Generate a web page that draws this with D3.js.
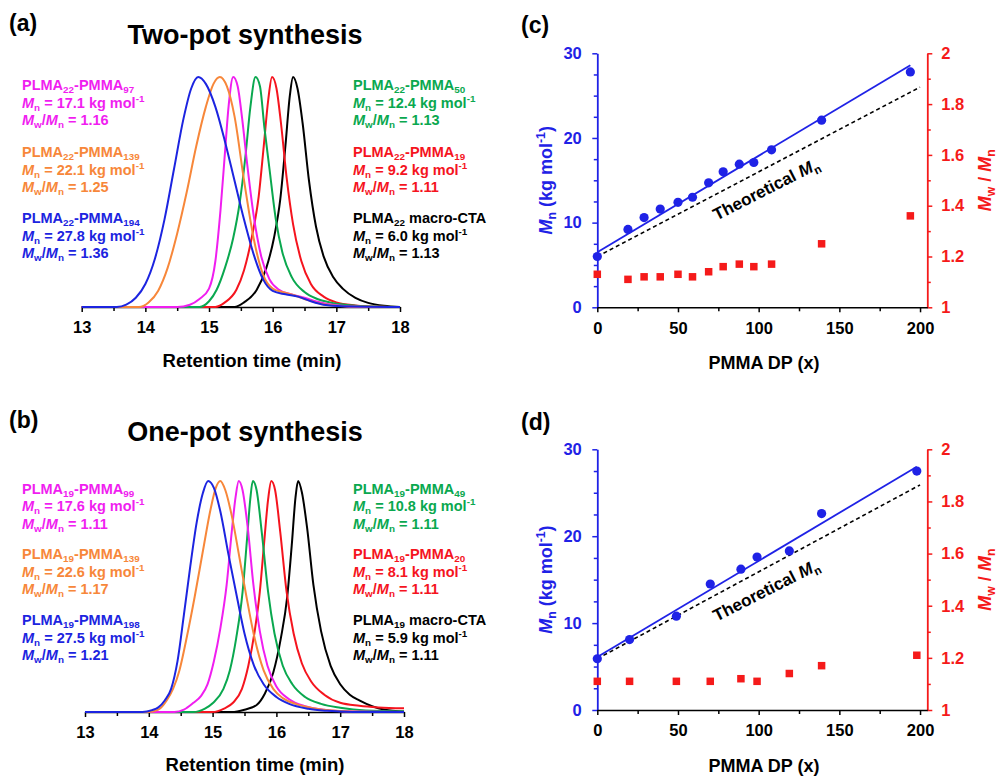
<!DOCTYPE html>
<html>
<head>
<meta charset="utf-8">
<script src="https://cdn.jsdelivr.net/npm/d3@7"></script>
<style>
  body { margin: 0; background: #fff; }
  svg { display: block; font-family: "Liberation Sans", Arial, Helvetica, sans-serif; }
</style>
</head>
<body>
<svg id="fig" width="999" height="777"></svg>
<script>
// ---------------- Data ----------------
// GPC traces, [retention time (min), normalised RI signal]
// Two-pot synthesis (PLMA22 macro-CTA and its chain extensions)
const twoPotTraceCTA = [[13,0],[15.4,0],[15.55,0.02],[15.75,0.075],[15.9,0.17],[16.02,0.3],[16.12,0.47],[16.2,0.7],[16.27,0.92],[16.32,1.0],[16.39,0.95],[16.47,0.8],[16.57,0.55],[16.68,0.35],[16.8,0.22],[16.95,0.13],[17.1,0.08],[17.3,0.04],[17.5,0.018],[17.75,0.005],[18,0]];
const twoPotTrace19 = [[13,0],[15.1,0],[15.25,0.02],[15.43,0.075],[15.55,0.16],[15.67,0.3],[15.78,0.48],[15.86,0.7],[15.93,0.9],[15.99,1.0],[16.06,0.95],[16.13,0.8],[16.22,0.56],[16.32,0.36],[16.45,0.2],[16.6,0.1],[16.8,0.045],[17.0,0.02],[17.3,0.007],[17.7,0.001],[18,0]];
const twoPotTrace50 = [[13,0],[14.85,0],[15.0,0.025],[15.12,0.075],[15.25,0.17],[15.38,0.3],[15.48,0.45],[15.57,0.65],[15.65,0.87],[15.73,1.0],[15.8,0.96],[15.87,0.78],[15.95,0.6],[16.05,0.38],[16.15,0.24],[16.3,0.13],[16.5,0.065],[16.7,0.035],[16.9,0.02],[17.2,0.008],[17.6,0.002],[18,0]];
const twoPotTrace97 = [[13,0],[14.5,0],[14.7,0.01],[14.85,0.035],[15.0,0.08],[15.1,0.2],[15.18,0.42],[15.25,0.67],[15.31,0.88],[15.38,1.0],[15.45,0.96],[15.52,0.82],[15.6,0.62],[15.7,0.4],[15.82,0.22],[15.95,0.12],[16.1,0.075],[16.3,0.055],[16.5,0.04],[16.75,0.02],[17.0,0.008],[17.4,0],[18,0]];
const twoPotTrace139 = [[13,0],[13.9,0],[14.05,0.02],[14.2,0.07],[14.35,0.17],[14.5,0.32],[14.65,0.5],[14.8,0.7],[14.95,0.87],[15.07,0.97],[15.17,1.0],[15.28,0.96],[15.4,0.83],[15.55,0.55],[15.7,0.3],[15.85,0.14],[16.0,0.08],[16.15,0.065],[16.35,0.05],[16.55,0.03],[16.8,0.012],[17.2,0.002],[18,0]];
const twoPotTrace194 = [[13,0],[13.55,0],[13.7,0.01],[13.85,0.04],[14.0,0.1],[14.15,0.21],[14.3,0.38],[14.45,0.6],[14.6,0.82],[14.72,0.95],[14.83,1.0],[14.95,0.97],[15.1,0.87],[15.25,0.72],[15.4,0.55],[15.55,0.38],[15.7,0.23],[15.85,0.12],[16.0,0.07],[16.2,0.055],[16.4,0.045],[16.6,0.025],[16.8,0.01],[17.1,0.003],[18,0]];

// One-pot synthesis (PLMA19 macro-CTA and its chain extensions)
const onePotTraceCTA = [[13,0],[15.3,0],[15.5,0.01],[15.69,0.03],[15.82,0.08],[15.95,0.17],[16.07,0.32],[16.17,0.5],[16.24,0.72],[16.3,0.93],[16.34,1.0],[16.4,0.95],[16.48,0.8],[16.58,0.55],[16.7,0.35],[16.85,0.2],[17.0,0.12],[17.15,0.075],[17.3,0.05],[17.5,0.025],[17.7,0.01],[18,0.002]];
const onePotTrace20 = [[13,0],[15.0,0],[15.18,0.015],[15.32,0.04],[15.46,0.1],[15.56,0.2],[15.66,0.35],[15.74,0.52],[15.81,0.74],[15.87,0.92],[15.92,1.0],[15.98,0.96],[16.06,0.78],[16.16,0.52],[16.27,0.34],[16.4,0.21],[16.55,0.13],[16.75,0.075],[17.0,0.04],[17.3,0.027],[17.6,0.02],[18,0.016]];
const onePotTrace49 = [[13,0],[14.7,0],[14.88,0.015],[15.01,0.04],[15.17,0.1],[15.27,0.18],[15.37,0.32],[15.47,0.52],[15.54,0.75],[15.59,0.92],[15.63,1.0],[15.69,0.96],[15.77,0.78],[15.87,0.52],[15.97,0.34],[16.1,0.2],[16.25,0.12],[16.45,0.065],[16.7,0.035],[17.0,0.018],[17.4,0.006],[18,0.002]];
const onePotTrace99 = [[13,0],[14.4,0],[14.55,0.01],[14.7,0.04],[14.82,0.07],[14.92,0.12],[15.02,0.22],[15.12,0.36],[15.22,0.55],[15.3,0.78],[15.36,0.93],[15.41,1.0],[15.47,0.96],[15.55,0.8],[15.64,0.55],[15.74,0.35],[15.86,0.2],[16.0,0.11],[16.2,0.055],[16.45,0.025],[16.75,0.01],[17.2,0.002],[18,0]];
const onePotTrace139 = [[13,0],[14.0,0],[14.15,0.01],[14.28,0.05],[14.38,0.1],[14.48,0.18],[14.6,0.33],[14.72,0.5],[14.85,0.7],[14.97,0.88],[15.05,0.97],[15.12,1.0],[15.2,0.96],[15.3,0.85],[15.42,0.67],[15.53,0.5],[15.65,0.33],[15.8,0.18],[15.95,0.1],[16.1,0.06],[16.3,0.035],[16.6,0.015],[17.0,0.004],[17.5,0],[18,0]];
const onePotTrace198 = [[13,0],[13.9,0],[14.05,0.008],[14.15,0.02],[14.25,0.05],[14.35,0.1],[14.45,0.22],[14.55,0.42],[14.65,0.63],[14.75,0.82],[14.85,0.95],[14.93,1.0],[15.02,0.97],[15.12,0.87],[15.25,0.68],[15.38,0.5],[15.5,0.34],[15.65,0.2],[15.8,0.12],[16.0,0.065],[16.2,0.035],[16.5,0.014],[16.8,0.005],[17.2,0],[18,0]];

// Sample annotations, ordered CTA, then increasing PMMA DP
const twoPotBlockDP = 22;
const twoPotDP   = [0, 19, 50, 97, 139, 194];
const twoPotMn   = [6.0, 9.2, 12.4, 17.1, 22.1, 27.8];
const twoPotDisp = [1.13, 1.11, 1.13, 1.16, 1.25, 1.36];

const onePotBlockDP = 19;
const onePotDP   = [0, 20, 49, 99, 139, 198];
const onePotMn   = [5.9, 8.1, 10.8, 17.6, 22.6, 27.5];
const onePotDisp = [1.11, 1.11, 1.11, 1.11, 1.17, 1.21];

// Mn and dispersity vs PMMA DP
const dpC   = [0, 19, 29, 39, 50, 59, 69, 78, 88, 97, 108, 139, 194];
const mnC   = [6.0, 9.2, 10.6, 11.6, 12.4, 13.0, 14.7, 16.0, 16.9, 17.1, 18.6, 22.1, 27.8];
const dispC = [1.13, 1.11, 1.12, 1.12, 1.13, 1.12, 1.14, 1.16, 1.17, 1.16, 1.17, 1.25, 1.36];
const fitC  = [[0, 6.5], [194, 28.6]];
const theoC = [[0, 6.0], [200, 26.0]];

const dpD   = [0, 20, 49, 70, 89, 99, 119, 139, 198];
const mnD   = [5.9, 8.1, 10.8, 14.5, 16.2, 17.6, 18.3, 22.6, 27.5];
const dispD = [1.11, 1.11, 1.11, 1.11, 1.12, 1.11, 1.14, 1.17, 1.21];
const fitD  = [[0, 6.1], [198, 28.0]];
const theoD = [[0, 5.9], [200, 25.9]];

// Axis ticks
const rtMajor = [13, 14, 15, 16, 17, 18];
const rtMinor = [13.5, 14.5, 15.5, 16.5, 17.5];
const dpMajor = [0, 50, 100, 150, 200];
const dpMinor = [25, 75, 125, 175];
const mnMajor = [0, 10, 20, 30];
const mnMinor = [2.5, 5, 7.5, 12.5, 15, 17.5, 22.5, 25, 27.5];
const dispMajor = [1, 1.2, 1.4, 1.6, 1.8, 2];
const dispMinor = [1.1, 1.3, 1.5, 1.7, 1.9];

// ---------------- Styling ----------------
const COL = {
  black: "#000000", red: "#f5141e", green: "#0aa84f",
  magenta: "#f01ef0", orange: "#f7873a", blue: "#1c24e0"
};
// colour per sample, same order as the DP arrays
const sampleColors = [COL.black, COL.red, COL.green, COL.magenta, COL.orange, COL.blue];
const axisBlue = "#1f22e6", axisRed = "#f51a1a";

const svg = d3.select("#fig");

// Bold text with sub/superscript and italic runs
function richText(parent, segs, o) {
  const size = o.size;
  const t = parent.append("text")
    .attr("x", o.x || 0).attr("y", o.y || 0)
    .attr("fill", o.color).attr("font-size", size).attr("font-weight", "bold")
    .attr("text-anchor", o.anchor || "start");
  if (o.dy) t.attr("dy", o.dy);
  if (o.transform) t.attr("transform", o.transform);
  let cur = 0;
  segs.forEach(s => {
    const target = s.sub ? 0.24 * size : s.sup ? -0.38 * size : 0;
    const sp = t.append("tspan").text(s.t);
    if (target !== cur) { sp.attr("dy", target - cur); cur = target; }
    if (s.sub || s.sup) sp.attr("font-size", size * 0.68);
    if (s.it) sp.attr("font-style", "italic");
  });
  return t;
}

const nameSegs = (block, dp) => dp === 0
  ? [{t: "PLMA"}, {t: String(block), sub: 1}, {t: " macro-CTA"}]
  : [{t: "PLMA"}, {t: String(block), sub: 1}, {t: "-PMMA"}, {t: String(dp), sub: 1}];
const mnSegs = mn => [{t: "M", it: 1}, {t: "n", sub: 1}, {t: " = " + mn.toFixed(1) + " kg mol"}, {t: "-1", sup: 1}];
const dispSegs = d => [{t: "M", it: 1}, {t: "w", sub: 1}, {t: "/"}, {t: "M", it: 1}, {t: "n", sub: 1}, {t: " = " + d.toFixed(2)}];

function styleAxisText(g, size, color) {
  g.selectAll("text")
    .attr("font-size", size).attr("font-weight", "bold")
    .attr("font-family", "Liberation Sans, Arial, sans-serif")
    .attr("fill", color);
}

// ---------------- GPC panels ----------------
function gpcPanel(o) {
  const x = d3.scaleLinear().domain([13, 18]).range(o.xRange);
  const y = d3.scaleLinear().domain([0, 1]).range([o.base, o.top]);

  const gMaj = svg.append("g").attr("transform", `translate(0,${o.base})`)
    .call(d3.axisBottom(x).tickValues(rtMajor).tickSize(5).tickSizeOuter(0).tickFormat(d3.format("d")));
  gMaj.select(".domain").attr("stroke", "#000").attr("stroke-width", 1.6);
  gMaj.selectAll(".tick line").attr("stroke", "#000").attr("stroke-width", 1.5);
  gMaj.selectAll(".tick text").attr("y", 14).attr("dy", "0.71em");
  styleAxisText(gMaj, 16.5, "#000");
  const gMin = svg.append("g").attr("transform", `translate(0,${o.base})`)
    .call(d3.axisBottom(x).tickValues(rtMinor).tickSize(4).tickSizeOuter(0).tickFormat(""));
  gMin.select(".domain").remove();
  gMin.selectAll(".tick line").attr("stroke", "#000").attr("stroke-width", 1.5);

  svg.append("text").attr("x", o.titleX).attr("y", o.titleY)
    .attr("text-anchor", "middle").attr("font-size", 18.5).attr("font-weight", "bold")
    .text("Retention time (min)");

  const line = d3.line().x(d => x(d[0])).y(d => y(d[1])).curve(d3.curveMonotoneX);
  o.traces.forEach((tr, i) => {
    svg.append("path").attr("d", line(tr)).attr("fill", "none")
      .attr("stroke", sampleColors[i]).attr("stroke-width", 2);
  });

  // annotations: right column CTA/low DP, left column high DP
  const col = {0: [o.rightX, 2], 1: [o.rightX, 1], 2: [o.rightX, 0],
               3: [o.leftX, 0], 4: [o.leftX, 1], 5: [o.leftX, 2]};
  o.dp.forEach((dp, i) => {
    const [tx, slot] = col[i];
    const y0 = o.groupY[slot];
    const c = sampleColors[i];
    richText(svg, nameSegs(o.block, dp), {x: tx, y: y0, size: 14.5, color: c});
    richText(svg, mnSegs(o.mn[i]), {x: tx, y: y0 + 17.5, size: 14.5, color: c});
    richText(svg, dispSegs(o.disp[i]), {x: tx, y: y0 + 35, size: 14.5, color: c});
  });

  svg.append("text").attr("x", o.headX).attr("y", o.headY).attr("text-anchor", "middle")
    .attr("font-size", 27).attr("font-weight", "bold").text(o.head);
  svg.append("text").attr("x", 9).attr("y", o.letterY)
    .attr("font-size", 23).attr("font-weight", "bold").text(o.letter);
}

gpcPanel({
  traces: [twoPotTraceCTA, twoPotTrace19, twoPotTrace50, twoPotTrace97, twoPotTrace139, twoPotTrace194],
  dp: twoPotDP, mn: twoPotMn, disp: twoPotDisp, block: twoPotBlockDP,
  xRange: [81.7, 400], base: 307, top: 77,
  titleX: 252, titleY: 367,
  leftX: 22, rightX: 353, groupY: [90, 157, 223],
  head: "Two-pot synthesis", headX: 245, headY: 44, letter: "(a)", letterY: 31
});

gpcPanel({
  traces: [onePotTraceCTA, onePotTrace20, onePotTrace49, onePotTrace99, onePotTrace139, onePotTrace198],
  dp: onePotDP, mn: onePotMn, disp: onePotDisp, block: onePotBlockDP,
  xRange: [85, 404], base: 712, top: 481,
  titleX: 255, titleY: 771,
  leftX: 22, rightX: 353, groupY: [493.5, 559, 625],
  head: "One-pot synthesis", headX: 245, headY: 441, letter: "(b)", letterY: 428
});

// ---------------- Mn / dispersity panels ----------------
function dpPanel(o) {
  const x = d3.scaleLinear().domain([0, 204.5]).range([597.3, 927.3]);
  const yMn = d3.scaleLinear().domain([0, 30]).range([o.base, o.top]);
  const yD = d3.scaleLinear().domain([1, 2]).range([o.base, o.top]);

  // left axis (Mn)
  const gL = svg.append("g").attr("transform", `translate(${x.range()[0]},0)`)
    .call(d3.axisLeft(yMn).tickValues(mnMajor).tickSize(5).tickSizeOuter(0).tickFormat(d3.format("d")));
  gL.select(".domain").attr("stroke", axisBlue).attr("stroke-width", 1.8);
  gL.selectAll(".tick line").attr("stroke", axisBlue).attr("stroke-width", 1.5);
  gL.selectAll(".tick text").attr("x", -15.5);
  styleAxisText(gL, 16.5, axisBlue);
  const gLm = svg.append("g").attr("transform", `translate(${x.range()[0]},0)`)
    .call(d3.axisLeft(yMn).tickValues(mnMinor).tickSize(3.5).tickSizeOuter(0).tickFormat(""));
  gLm.select(".domain").remove();
  gLm.selectAll(".tick line").attr("stroke", axisBlue).attr("stroke-width", 1.5);

  // right axis (dispersity)
  const gR = svg.append("g").attr("transform", `translate(${x.range()[1]},0)`)
    .call(d3.axisRight(yD).tickValues(dispMajor).tickSize(5).tickSizeOuter(0).tickFormat(d => String(d)));
  gR.select(".domain").attr("stroke", axisRed).attr("stroke-width", 1.8);
  gR.selectAll(".tick line").attr("stroke", axisRed).attr("stroke-width", 1.5);
  gR.selectAll(".tick text").attr("x", 14);
  styleAxisText(gR, 16.5, axisRed);
  const gRm = svg.append("g").attr("transform", `translate(${x.range()[1]},0)`)
    .call(d3.axisRight(yD).tickValues(dispMinor).tickSize(3.5).tickSizeOuter(0).tickFormat(""));
  gRm.select(".domain").remove();
  gRm.selectAll(".tick line").attr("stroke", axisRed).attr("stroke-width", 1.5);

  // bottom axis (PMMA DP)
  const gB = svg.append("g").attr("transform", `translate(0,${o.base})`)
    .call(d3.axisBottom(x).tickValues(dpMajor).tickSize(5).tickSizeOuter(0).tickFormat(d3.format("d")));
  gB.select(".domain").attr("stroke", "#000").attr("stroke-width", 1.6);
  gB.selectAll(".tick line").attr("stroke", "#000").attr("stroke-width", 1.5);
  gB.selectAll(".tick text").attr("y", 14.5).attr("dy", "0.71em");
  styleAxisText(gB, 16.5, "#000");
  const gBm = svg.append("g").attr("transform", `translate(0,${o.base})`)
    .call(d3.axisBottom(x).tickValues(dpMinor).tickSize(4).tickSizeOuter(0).tickFormat(""));
  gBm.select(".domain").remove();
  gBm.selectAll(".tick line").attr("stroke", "#000").attr("stroke-width", 1.5);

  svg.append("text").attr("x", 764).attr("y", o.base + 62)
    .attr("text-anchor", "middle").attr("font-size", 18).attr("font-weight", "bold")
    .text("PMMA DP (x)");

  // axis titles
  const cy = (o.base + o.top) / 2;
  richText(svg, [{t: "M", it: 1}, {t: "n", sub: 1}, {t: " (kg mol"}, {t: "-1", sup: 1}, {t: ")"}],
    {size: 18, color: axisBlue, anchor: "middle", transform: `translate(552,${cy}) rotate(-90)`});
  richText(svg, [{t: "M", it: 1}, {t: "w", sub: 1}, {t: " / "}, {t: "M", it: 1}, {t: "n", sub: 1}],
    {size: 18, color: axisRed, anchor: "middle", transform: `translate(991,${cy}) rotate(-90)`});

  // lines
  const ln = d3.line().x(d => x(d[0])).y(d => yMn(d[1]));
  svg.append("path").attr("d", ln(o.theo)).attr("fill", "none")
    .attr("stroke", "#000").attr("stroke-width", 1.6).attr("stroke-dasharray", "4,3");
  svg.append("path").attr("d", ln(o.fit)).attr("fill", "none")
    .attr("stroke", axisBlue).attr("stroke-width", 1.8);

  richText(svg, [{t: "Theoretical "}, {t: "M", it: 1}, {t: "n", sub: 1}],
    {size: 17, color: "#000", anchor: "middle", dy: "0.35em",
     transform: `translate(${o.theoLabel[0]},${o.theoLabel[1]}) rotate(-27)`});

  // markers
  const sq = 7.5;
  svg.append("g").selectAll("rect").data(o.dp).join("rect")
    .attr("x", d => x(d) - sq / 2).attr("y", (d, i) => yD(o.disp[i]) - sq / 2)
    .attr("width", sq).attr("height", sq).attr("fill", axisRed);
  svg.append("g").selectAll("circle").data(o.dp).join("circle")
    .attr("cx", d => x(d)).attr("cy", (d, i) => yMn(o.mn[i]))
    .attr("r", 4.6).attr("fill", axisBlue);

  svg.append("text").attr("x", 521).attr("y", o.letterY)
    .attr("font-size", 23).attr("font-weight", "bold").text(o.letter);
}

dpPanel({dp: dpC, mn: mnC, disp: dispC, fit: fitC, theo: theoC,
  base: 307.3, top: 53.3, theoLabel: [766, 189], letter: "(c)", letterY: 33});
dpPanel({dp: dpD, mn: mnD, disp: dispD, fit: fitD, theo: theoD,
  base: 710, top: 449.3, theoLabel: [766, 590], letter: "(d)", letterY: 430});
</script>
</body>
</html>
